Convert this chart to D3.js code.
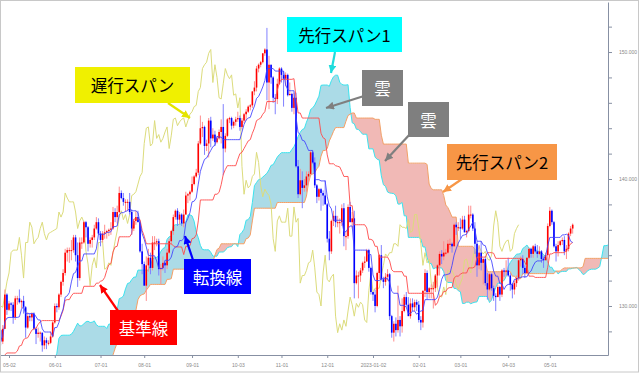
<!DOCTYPE html>
<html>
<head>
<meta charset="utf-8">
<script src="https://cdn.jsdelivr.net/npm/d3@7"></script>
<style>
body { margin: 0; background: #fff; }
svg { display: block; }
</style>
</head>
<body>
<script>
// USD/JPY daily candles, index 0 = 2022-02-14 (weekdays), chart starts at index 55 = 2022-05-02
const tickIdx = [55, 77, 99, 120, 143, 165, 186, 208, 230, 252, 272, 295, 315];
const tickLabels = ["05-02", "06-01", "07-01", "08-01", "09-01", "10-03", "11-01", "12-01",
                    "2023-01-02", "02-01", "03-01", "04-03", "05-01"];
const priceTicks = [128, 130, 132, 134, 136, 138, 140, 142, 144, 146, 148, 150, 152];
const priceLabels = [130, 140, 150];

const openP = [
  115.4,115.5,115.6,115.4,114.9,115.0,114.8,115.0,115.0,115.5,
  115.6,115.0,114.9,115.5,115.5,114.8,115.3,115.7,115.9,116.1,
  117.3,118.2,118.3,118.7,118.6,119.2,119.5,120.8,121.2,122.3,
  122.1,123.8,122.9,121.8,121.7,122.5,122.8,123.6,123.8,123.9,
  124.3,125.4,125.4,125.6,125.9,126.4,126.9,128.9,127.9,128.4,
  128.5,128.1,127.2,128.2,130.9,
  129.7,130.2,130.1,129.1,130.6,130.6,130.3,130.4,129.9,128.3,
  129.2,129.1,129.4,128.2,127.8,127.9,127.9,126.9,127.3,127.1,
  127.1,127.6,128.7,130.0,129.9,130.9,131.9,132.6,134.2,134.4,
  134.4,134.4,135.4,134.0,132.2,135.0,135.0,136.6,136.2,134.9,
  135.2,135.4,136.1,136.6,135.7,135.2,135.7,135.8,135.9,136.0,
  136.1,137.4,137.0,137.4,138.9,138.5,138.2,138.2,138.2,137.4,
  136.1,136.7,137.0,136.6,134.3,133.3,131.6,133.2,133.8,133.0,
  135.0,135.0,135.1,132.9,133.0,133.4,133.2,134.2,135.1,135.9,
  137.0,137.5,136.8,137.2,136.5,137.2,138.7,138.8,139.0,139.6,
  140.2,140.5,142.8,144.0,144.1,142.6,142.8,144.6,143.2,143.5,
  142.9,143.2,143.7,144.1,142.4,143.4,144.7,144.8,144.2,144.5,
  144.7,144.8,144.1,144.6,145.1,145.3,145.7,145.8,146.9,147.2,
  148.7,149.0,149.2,149.9,150.2,147.6,149.0,148.0,146.4,146.3,
  147.5,148.7,148.2,147.9,148.2,146.6,146.7,145.6,146.4,141.0,
  138.8,139.9,139.3,139.5,140.2,140.4,142.1,141.3,139.5,138.6,
  139.2,138.9,138.7,138.0,135.3,134.3,136.7,137.1,136.6,136.6,
  136.6,137.7,135.5,135.5,137.8,136.6,136.9,131.8,132.4,132.4,
  132.8,133.4,133.5,134.4,133.0,131.1,130.9,130.0,132.6,134.0,
  132.1,131.9,132.3,132.5,129.2,127.9,128.6,128.1,128.9,128.4,
  129.6,130.7,130.1,129.2,130.2,129.9,130.3,130.1,128.9,128.7,
  131.2,132.6,131.1,131.4,131.4,131.4,132.4,133.2,134.1,133.9,
  134.2,134.2,134.9,134.9,134.7,136.4,136.2,136.2,136.1,136.8,
  135.8,135.9,137.2,137.2,136.1,134.9,133.2,134.2,133.4,133.7,
  131.8,131.3,132.5,131.4,130.8,130.7,131.5,130.9,132.8,132.7,
  132.8,132.4,131.7,131.3,131.8,132.2,133.6,133.7,133.0,132.6,
  133.8,134.5,134.1,134.7,134.3,134.1,134.3,133.7,133.6,134.0,
  136.3,137.5,136.6,134.7,134.3,134.8,135.1,135.2,134.3,134.5,
  135.7,136.1
];
const highP = [
  115.7,115.8,115.7,115.5,115.2,115.1,115.2,115.2,115.7,115.8,
  115.8,115.3,115.6,115.8,115.6,115.5,115.8,116.0,116.3,117.4,
  118.3,118.5,119.0,119.0,119.4,119.6,120.9,121.4,122.4,122.4,
  125.1,124.3,123.2,122.4,122.9,123.0,123.7,124.0,124.1,124.7,
  125.7,125.6,126.3,126.0,126.7,127.1,129.0,129.4,128.7,128.8,
  128.8,128.2,128.5,131.3,131.0,
  130.4,130.3,130.3,130.8,130.8,131.3,130.5,130.8,130.0,129.5,
  129.4,129.5,129.5,128.3,128.3,128.0,127.9,127.6,127.5,127.3,
  128.0,128.8,130.2,130.2,131.0,132.0,132.9,134.5,134.6,134.6,
  135.2,135.6,135.6,135.0,135.4,135.4,136.7,136.7,136.3,135.4,
  135.6,136.4,137.0,136.9,135.9,135.9,136.4,136.0,136.1,136.6,
  137.8,137.7,137.9,139.4,139.1,138.9,138.4,138.4,138.9,137.6,
  136.8,137.5,137.5,136.7,134.9,133.5,133.9,134.5,134.2,135.5,
  135.5,135.3,135.3,133.3,133.9,133.5,134.5,135.3,136.0,137.2,
  137.6,137.7,137.4,137.3,137.6,139.0,138.9,139.1,140.2,140.3,
  140.8,143.0,145.0,144.5,144.2,143.1,144.8,144.9,144.0,143.8,
  143.4,143.9,144.7,145.9,143.6,144.8,144.9,144.9,144.6,144.9,
  145.3,145.0,144.8,145.2,145.5,145.8,145.9,146.9,147.7,148.9,
  149.1,149.3,149.9,150.3,151.9,149.7,149.0,148.1,146.7,147.9,
  148.8,148.8,148.5,148.4,148.3,147.6,146.8,146.8,146.8,141.5,
  140.8,140.6,140.0,140.6,140.6,142.2,142.2,141.7,139.6,139.3,
  139.3,139.1,139.9,138.1,135.9,136.8,137.5,137.9,137.1,136.9,
  138.0,138.1,135.9,138.0,138.2,137.4,137.5,132.8,132.7,133.0,
  133.5,133.9,134.5,134.5,133.1,131.1,131.3,132.7,134.1,134.8,
  132.3,132.6,132.9,132.6,129.3,128.8,129.1,131.6,129.2,130.6,
  130.9,131.1,130.7,130.6,130.6,130.5,130.5,130.4,129.2,131.2,
  132.9,132.8,131.5,131.7,131.9,132.5,133.3,134.3,134.4,135.1,
  134.5,135.2,135.3,135.0,136.5,136.6,136.6,136.9,137.1,137.1,
  136.0,137.9,137.9,137.3,136.6,135.1,134.8,135.1,133.8,133.9,
  132.6,132.6,132.6,131.6,131.0,131.7,131.6,132.9,133.0,133.6,
  133.8,132.6,131.8,132.0,132.4,133.7,133.9,134.0,133.2,133.8,
  134.6,134.6,134.8,134.9,134.8,134.7,134.4,133.9,134.2,136.5,
  137.8,137.6,136.7,134.9,135.1,135.2,135.4,135.5,134.8,135.8,
  136.3,136.5
];
const lowP = [
  115.0,115.2,115.1,114.8,114.8,114.6,114.5,114.9,114.4,115.3,
  114.8,114.8,114.9,115.4,114.6,114.7,115.1,115.4,115.8,116.0,
  117.2,117.7,118.1,118.3,118.4,119.1,119.4,120.5,121.0,121.4,
  122.1,122.4,121.6,121.3,121.6,122.4,122.5,123.4,123.6,123.7,
  124.3,124.9,125.1,125.2,125.8,126.2,126.8,127.4,127.5,127.8,
  127.6,126.9,127.0,128.2,129.3,
  129.6,129.6,128.6,128.9,130.1,130.2,129.8,129.4,127.5,128.2,
  128.8,128.8,128.1,127.0,127.5,127.2,126.4,126.6,126.6,126.9,
  127.0,127.5,128.6,129.5,129.7,130.7,131.6,132.4,133.5,133.4,
  133.6,134.2,133.5,131.5,132.0,134.5,134.9,135.4,134.3,134.6,
  134.6,135.2,136.0,135.6,134.7,135.0,135.3,135.3,135.5,135.6,
  136.0,136.6,136.5,137.3,138.4,137.9,137.4,137.5,137.2,135.6,
  135.9,136.4,136.6,134.2,132.5,131.6,130.4,132.7,132.5,132.8,
  134.4,134.7,132.4,131.7,132.8,132.6,132.9,134.1,134.8,135.6,
  136.8,136.3,136.4,136.3,136.2,137.2,138.1,138.3,138.9,139.5,
  140.1,140.3,142.7,143.3,141.9,142.2,141.7,142.5,143.0,142.6,
  142.8,143.1,142.8,140.3,142.1,143.3,144.4,143.9,144.0,144.2,
  144.5,143.8,143.9,144.4,144.6,145.2,145.4,145.6,146.6,146.9,
  148.4,148.8,149.1,149.7,146.2,145.5,147.5,146.0,145.1,145.9,
  147.4,147.6,145.7,147.3,146.5,146.6,145.3,145.1,140.9,138.5,
  138.7,137.7,139.0,139.0,139.6,140.3,141.2,139.3,138.1,138.3,
  137.5,137.9,138.0,135.0,133.6,134.1,136.3,136.2,136.2,135.7,
  136.3,134.7,134.4,135.3,136.6,136.1,130.6,131.7,130.6,131.9,
  132.6,133.0,133.5,132.7,130.9,130.4,129.5,129.9,132.1,132.0,
  131.4,131.6,132.0,128.9,127.5,127.2,127.6,127.9,127.6,127.9,
  129.5,129.9,129.2,129.0,129.6,129.6,129.6,128.7,128.1,128.3,
  130.7,130.5,130.6,130.6,129.8,131.1,131.5,132.4,133.3,133.6,
  134.0,134.1,134.5,134.2,134.7,135.6,135.9,135.3,136.0,135.8,
  135.4,135.8,136.9,135.9,134.1,132.3,132.9,132.8,131.7,131.6,
  130.5,131.2,131.2,130.4,129.6,130.7,130.4,130.7,132.3,132.4,
  132.3,131.2,130.6,130.9,131.5,132.0,133.1,132.5,132.2,132.5,
  133.7,133.8,133.8,134.2,133.8,134.0,133.4,133.0,133.6,133.4,
  136.2,136.4,134.6,133.5,133.9,134.7,134.8,134.0,133.7,134.3,
  135.5,135.7
];
const closeP = [
  115.5,115.6,115.4,114.9,115.0,114.8,115.0,115.0,115.5,115.6,
  115.0,114.9,115.5,115.5,114.8,115.3,115.7,115.9,116.1,117.3,
  118.2,118.3,118.7,118.6,119.2,119.5,120.8,121.2,122.3,122.1,
  123.8,122.9,121.8,121.7,122.5,122.8,123.6,123.8,123.9,124.3,
  125.4,125.4,125.6,125.9,126.4,126.9,128.9,127.9,128.4,128.5,
  128.1,127.2,128.2,130.9,129.7,
  130.2,130.1,129.1,130.6,130.6,130.3,130.4,129.9,128.3,129.2,
  129.1,129.4,128.2,127.8,127.9,127.9,126.9,127.3,127.1,127.1,
  127.6,128.7,130.0,129.9,130.9,131.9,132.6,134.2,134.4,134.4,
  134.4,135.4,134.0,132.2,135.0,135.0,136.6,136.2,134.9,135.2,
  135.4,136.1,136.6,135.7,135.2,135.7,135.8,135.9,136.0,136.1,
  137.4,137.0,137.4,138.9,138.5,138.2,138.2,138.2,137.4,136.1,
  136.7,137.0,136.6,134.3,133.3,131.6,133.2,133.8,133.0,135.0,
  135.0,135.1,132.9,133.0,133.4,133.2,134.2,135.1,135.9,137.0,
  137.5,136.8,137.2,136.5,137.2,138.7,138.8,139.0,139.6,140.2,
  140.5,142.8,144.0,144.1,142.6,142.8,144.6,143.2,143.5,142.9,
  143.2,143.7,144.1,142.4,143.4,144.7,144.8,144.2,144.5,144.7,
  144.8,144.1,144.6,145.1,145.3,145.7,145.8,146.9,147.2,148.7,
  149.0,149.2,149.9,150.2,147.6,149.0,148.0,146.4,146.3,147.5,
  148.7,148.2,147.9,148.2,146.6,146.7,145.6,146.4,141.0,138.8,
  139.9,139.3,139.5,140.2,140.4,142.1,141.3,139.5,138.6,139.2,
  138.9,138.7,138.0,135.3,134.3,136.7,137.1,136.6,136.6,136.6,
  137.7,135.5,135.5,137.8,136.6,136.9,131.8,132.4,132.4,132.8,
  133.4,133.5,134.4,133.0,131.1,130.9,130.0,132.6,134.0,132.1,
  131.9,132.3,132.5,129.2,127.9,128.6,128.1,128.9,128.4,129.6,
  130.7,130.1,129.2,130.2,129.9,130.3,130.1,128.9,128.7,131.2,
  132.6,131.1,131.4,131.4,131.4,132.4,133.2,134.1,133.9,134.2,
  134.2,134.9,134.9,134.7,136.4,136.2,136.2,136.1,136.8,135.8,
  135.9,137.2,137.2,136.1,134.9,133.2,134.2,133.4,133.7,131.8,
  131.3,132.5,131.4,130.8,130.7,131.5,130.9,132.8,132.7,132.8,
  132.4,131.7,131.3,131.8,132.2,133.6,133.7,133.0,132.6,133.8,
  134.5,134.1,134.7,134.3,134.1,134.3,133.7,133.6,134.0,136.3,
  137.5,136.6,134.7,134.3,134.8,135.1,135.2,134.3,134.5,135.7,
  136.1,136.4
];

// Ichimoku settings
const tenkanLen = 9, kijunLen = 26, spanBLen = 52, shift = 26;

const W = 639, H = 373;
const plot = { left: 0, top: 2, right: 608, bottom: 355 };

const svg = d3.select('body').append('svg')
  .attr('width', W)
  .attr('height', H)
  .style('font-family', '"Liberation Sans", Arial, sans-serif');

const x = d3.scaleLinear().domain([50.67, 342.98]).range([plot.left, plot.right]);
const y = d3.scaleLinear().domain([126.14, 153.94]).range([plot.bottom, plot.top]);

const n = closeP.length;
function midRange(i, len) {
  if (i - len + 1 < 0) return null;
  let hi = -Infinity, lo = Infinity;
  for (let k = i - len + 1; k <= i; k++) {
    hi = Math.max(hi, highP[k]);
    lo = Math.min(lo, lowP[k]);
  }
  return (hi + lo) / 2;
}

const tenkan = d3.range(n).map(i => ({ i: i, v: midRange(i, tenkanLen) }));
const kijun = d3.range(n).map(i => ({ i: i, v: midRange(i, kijunLen) }));
const spanA = d3.range(n).map(i => {
  const t = tenkan[i].v, k = kijun[i].v;
  return { i: i + shift, v: (t != null && k != null) ? (t + k) / 2 : null };
});
const spanB = d3.range(n).map(i => ({ i: i + shift, v: midRange(i, spanBLen) }));
const chikou = d3.range(n).map(i => ({ i: i - shift, v: closeP[i] }));
const cloud = d3.range(n)
  .filter(i => spanA[i].v != null && spanB[i].v != null)
  .map(i => ({ i: i + shift, a: spanA[i].v, b: spanB[i].v }));

const defs = svg.append('defs');
defs.append('clipPath').attr('id', 'plotClip')
  .append('rect')
  .attr('x', plot.left).attr('y', plot.top)
  .attr('width', plot.right - plot.left).attr('height', plot.bottom - plot.top);

// regions above / below span B for the two cloud colours
defs.append('clipPath').attr('id', 'aboveB')
  .append('path')
  .attr('d', d3.area().x(d => x(d.i)).y0(0).y1(d => y(d.b))(cloud));
defs.append('clipPath').attr('id', 'belowB')
  .append('path')
  .attr('d', d3.area().x(d => x(d.i)).y0(H).y1(d => y(d.b))(cloud));

const g = svg.append('g').attr('clip-path', 'url(#plotClip)');

const band = d3.area().x(d => x(d.i)).y0(d => y(d.b)).y1(d => y(d.a));
g.append('g').attr('clip-path', 'url(#aboveB)')
  .append('path').attr('d', band(cloud)).attr('fill', '#abdbe7');
g.append('g').attr('clip-path', 'url(#belowB)')
  .append('path').attr('d', band(cloud)).attr('fill', '#f1b9b6');

const line = d3.line().defined(d => d.v != null).x(d => x(d.i)).y(d => y(d.v));

g.append('path').attr('d', line(spanA)).attr('fill', 'none')
  .attr('stroke', '#3be3ee').attr('stroke-width', 1);
g.append('path').attr('d', line(spanB)).attr('fill', 'none')
  .attr('stroke', '#f3a066').attr('stroke-width', 1);
g.append('path').attr('d', line(chikou)).attr('fill', 'none')
  .attr('stroke', '#dcdc7c').attr('stroke-width', 1);

// candles: red = up, blue = down
const candles = g.append('g');
d3.range(n).forEach(i => {
  const up = closeP[i] >= openP[i];
  const col = up ? '#ff0000' : '#0000ff';
  candles.append('line')
    .attr('x1', x(i)).attr('x2', x(i))
    .attr('y1', y(highP[i])).attr('y2', y(lowP[i]))
    .attr('stroke', up ? '#ff8c8c' : '#8080ff').attr('stroke-width', 1);
  const y0 = y(Math.max(openP[i], closeP[i]));
  const y1 = y(Math.min(openP[i], closeP[i]));
  candles.append('rect')
    .attr('x', x(i) - 0.8).attr('width', 1.6)
    .attr('y', y0).attr('height', Math.max(1, y1 - y0))
    .attr('fill', col);
});

g.append('path').attr('d', line(kijun)).attr('fill', 'none')
  .attr('stroke', '#ff4a4a').attr('stroke-width', 1).attr('opacity', 0.9);
g.append('path').attr('d', line(tenkan)).attr('fill', 'none')
  .attr('stroke', '#4040ff').attr('stroke-width', 1).attr('opacity', 0.85);

// axes
const yAxis = svg.append('g')
  .attr('transform', `translate(${plot.right},0)`)
  .call(d3.axisRight(y).tickValues(priceTicks).tickSize(4).tickSizeOuter(0).tickPadding(7)
    .tickFormat(d => priceLabels.includes(d) ? d3.format('.3f')(d) : ''));
yAxis.select('.domain').attr('stroke', '#8790a3');
yAxis.selectAll('.tick line').attr('stroke', '#8790a3');
yAxis.selectAll('text').attr('fill', '#888').style('font-size', '5px');

const xAxis = svg.append('g')
  .attr('transform', `translate(0,${plot.bottom})`)
  .call(d3.axisBottom(x).tickValues(tickIdx).tickSize(3).tickSizeOuter(0).tickPadding(5)
    .tickFormat((d, i) => tickLabels[i]));
xAxis.select('.domain').attr('stroke', '#8790a3');
xAxis.selectAll('.tick line').attr('stroke', '#8790a3');
xAxis.selectAll('text').attr('fill', '#888').style('font-size', '5px');

// outer frame
svg.append('rect')
  .attr('x', 0.5).attr('y', 0.5).attr('width', W - 1).attr('height', H - 1.5)
  .attr('fill', 'none').attr('stroke', '#c8c8c8');

// callouts
const notes = [
  { text: '遅行スパン', x: 75, y: 67, w: 115, h: 36, fill: '#f0f000', color: '#000', arrow: '#e4e400', from: [168, 103], to: [190, 118] },
  { text: '先行スパン1', x: 287, y: 17, w: 115, h: 35, fill: '#00ffff', color: '#000', arrow: '#1fdcdc', from: [335, 52], to: [331, 73] },
  { text: '雲', x: 362, y: 70, w: 41, h: 36, fill: '#7f7f7f', color: '#fff', arrow: '#7f7f7f', from: [364, 96], to: [326, 108] },
  { text: '雲', x: 408, y: 102, w: 41, h: 35, fill: '#7f7f7f', color: '#fff', arrow: '#7f7f7f', from: [411, 133], to: [385, 161] },
  { text: '先行スパン2', x: 447, y: 144, w: 110, h: 36, fill: '#f79646', color: '#000', arrow: '#f79646', from: [462, 179], to: [443, 192] },
  { text: '基準線', x: 110, y: 310, w: 67, h: 35, fill: '#ff0000', color: '#fff', arrow: '#ff0000', from: [118, 311], to: [100, 285] },
  { text: '転換線', x: 184, y: 259, w: 67, h: 35, fill: '#0000ff', color: '#fff', arrow: '#0000ff', from: [193, 260], to: [185, 236] }
];

notes.forEach((d, k) => {
  defs.append('marker')
    .attr('id', 'arr' + k)
    .attr('viewBox', '0 0 10 10')
    .attr('refX', 10).attr('refY', 5)
    .attr('markerUnits', 'userSpaceOnUse')
    .attr('markerWidth', 8).attr('markerHeight', 8)
    .attr('orient', 'auto')
    .append('path').attr('d', 'M0,0 L10,5 L0,10 Z').attr('fill', d.arrow);
});

const ann = svg.append('g');
notes.forEach((d, k) => {
  ann.append('line')
    .attr('x1', d.from[0]).attr('y1', d.from[1])
    .attr('x2', d.to[0]).attr('y2', d.to[1])
    .attr('stroke', d.arrow).attr('stroke-width', 2.2)
    .attr('marker-end', `url(#arr${k})`);
});
notes.forEach(d => {
  ann.append('rect')
    .attr('x', d.x).attr('y', d.y).attr('width', d.w).attr('height', d.h)
    .attr('fill', d.fill);
  ann.append('text')
    .attr('x', d.x + d.w / 2).attr('y', d.y + d.h / 2)
    .attr('text-anchor', 'middle').attr('dominant-baseline', 'central')
    .style('font-family', '"Noto Sans CJK JP", sans-serif')
    .style('font-size', '16.5px')
    .attr('fill', d.color)
    .text(d.text);
});
</script>
</body>
</html>
